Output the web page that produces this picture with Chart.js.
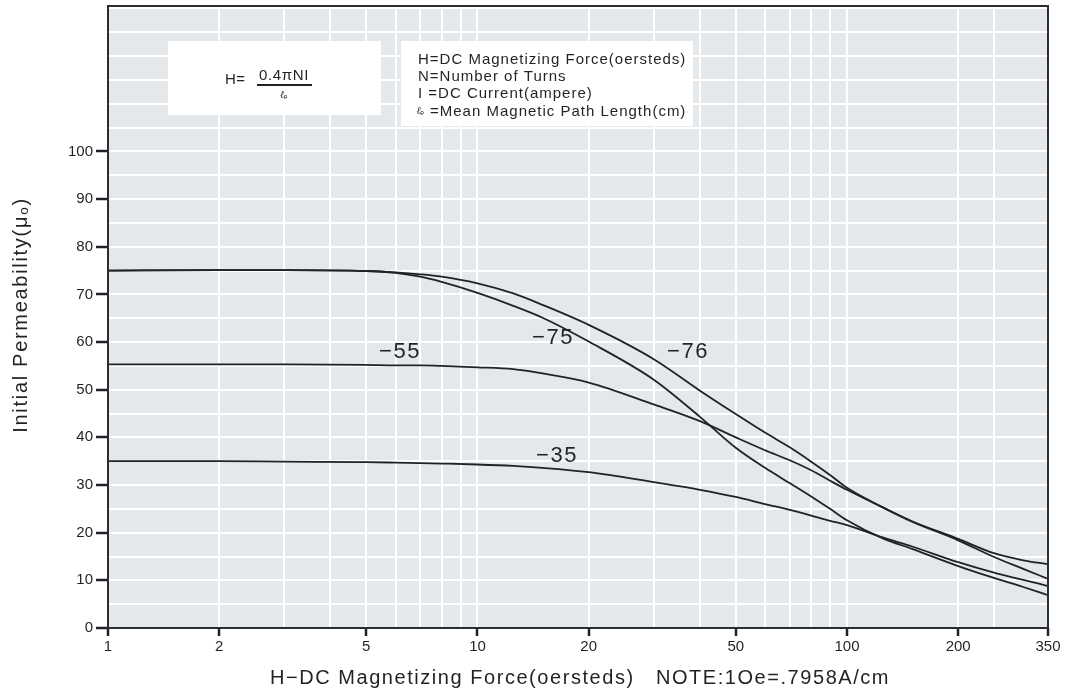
<!DOCTYPE html>
<html><head><meta charset="utf-8">
<script src="https://cdn.jsdelivr.net/npm/chart.js@4.4.0/dist/chart.umd.min.js"></script>
<style>html,body{margin:0;padding:0;background:#fff;}#wrap{width:1067px;height:690px;}</style>
</head><body><div id="wrap"><canvas id="c" width="1067" height="690"></canvas></div>
<script>
// H (oersteds) sample points
const hValues = [1, 2, 3, 5, 6, 7, 8, 10, 12.5, 15, 20, 30, 40, 50, 60, 70, 80, 90, 100, 125, 150, 200, 250, 300, 350];
// Initial permeability for each material
const mat76 = [75.0, 75.1, 75.1, 74.9, 74.6, 74.2, 73.7, 72.3, 70.2, 67.8, 63.6, 56.4, 49.8, 44.9, 41.0, 37.9, 34.9, 32.1, 29.4, 25.3, 22.3, 18.4, 14.9, 12.4, 10.3];
const mat75 = [75.0, 75.1, 75.1, 74.9, 74.5, 73.7, 72.6, 70.3, 67.6, 65.1, 60.1, 52.1, 44.3, 37.8, 33.6, 30.4, 27.6, 25.0, 22.6, 18.8, 16.6, 13.0, 10.5, 8.6, 6.9];
const mat55 = [55.3, 55.3, 55.3, 55.2, 55.1, 55.1, 55.0, 54.7, 54.3, 53.4, 51.5, 46.9, 43.4, 40.0, 37.3, 35.2, 33.1, 30.9, 29.0, 25.3, 22.4, 18.7, 15.7, 14.2, 13.4];
const mat35 = [35.0, 35.0, 34.9, 34.8, 34.7, 34.6, 34.5, 34.3, 34.0, 33.6, 32.7, 30.6, 29.0, 27.5, 26.0, 24.8, 23.6, 22.5, 21.6, 19.0, 17.1, 13.8, 11.6, 10.1, 8.8];
const seriesNames = ['−76', '−75', '−55', '−35'];
// axis ticks
const xGridValues = [1, 2, 3, 4, 5, 6, 7, 8, 9, 10, 20, 30, 40, 50, 60, 70, 80, 90, 100, 200, 250, 350];
const xLabelValues = [1, 2, 5, 10, 20, 50, 100, 200, 350];
const yGridValues = [0, 5, 10, 15, 20, 25, 30, 35, 40, 45, 50, 55, 60, 65, 70, 75, 80, 85, 90, 95, 100, 105, 110, 115, 120, 125, 130];
const yLabelValues = [0, 10, 20, 30, 40, 50, 60, 70, 80, 90, 100];

const FONT = '"Liberation Sans", Arial, "DejaVu Sans", sans-serif';
const INK = '#1f2226';

function txt(ctx, s, x, y, size, spacing, align, extra) {
  ctx.save();
  ctx.font = (extra || '') + size + 'px ' + FONT;
  try { ctx.letterSpacing = spacing + 'px'; } catch (e) {}
  ctx.fillStyle = INK;
  ctx.textBaseline = 'middle';
  let w = ctx.measureText(s).width;
  let sx = x;
  if (align === 'center') sx = x - w / 2;
  else if (align === 'right') sx = x - w;
  ctx.textAlign = 'left';
  ctx.fillText(s, sx, y);
  ctx.restore();
  return w;
}

const decor = {
  id: 'decor',
  beforeDraw(chart) {
    const { ctx, chartArea: a } = chart;
    ctx.save();
    ctx.fillStyle = '#ffffff';
    ctx.fillRect(0, 0, chart.width, chart.height);
    ctx.fillStyle = '#e4e8eb';
    ctx.fillRect(a.left, a.top, a.right - a.left, a.bottom - a.top);
    ctx.restore();
  },
  beforeDatasetsDraw(chart) {
    const { ctx } = chart;
    ctx.save();
    ctx.fillStyle = '#ffffff';
    ctx.fillRect(168, 41, 213, 74);
    ctx.fillRect(401, 41, 292, 85);
    ctx.restore();
    // formula
    txt(ctx, 'H=', 225, 80, 15, 0.5, 'left');
    txt(ctx, '0.4\u03C0NI', 284, 76, 15, 0.6, 'center');
    ctx.save();
    ctx.strokeStyle = INK; ctx.lineWidth = 2;
    ctx.beginPath(); ctx.moveTo(257, 85); ctx.lineTo(312, 85); ctx.stroke();
    ctx.restore();
    txt(ctx, '\u2113\u2091', 284, 95, 10, 0, 'center', 'italic ');
    // definitions
    const lines = [['H', '=DC Magnetizing Force(oersteds)'], ['N', '=Number of Turns'], ['I', ' =DC Current(ampere)'], ['\u2113\u2091', '=Mean Magnetic Path Length(cm)']];
    const ys = [59.5, 76.5, 93.5, 111.5];
    lines.forEach((l, i) => {
      if (i === 3) {
        txt(ctx, l[0], 417, ys[i], 10, 0, 'left', 'italic ');
        txt(ctx, l[1], 430, ys[i], 15, 1, 'left');
      } else {
        const w = txt(ctx, l[0], 418, ys[i], 15, 1, 'left');
        txt(ctx, l[1], 418 + w, ys[i], 15, 1, 'left');
      }
    });
  },
  afterDraw(chart) {
    const { ctx, chartArea: a } = chart;
    ctx.save();
    ctx.strokeStyle = '#2a2e33'; ctx.lineWidth = 2;
    ctx.strokeRect(a.left, a.top, a.right - a.left, a.bottom - a.top);
    ctx.restore();
    // curve labels
    txt(ctx, seriesNames[2], 400, 352, 22, 1.5, 'center');
    txt(ctx, seriesNames[1], 553, 338, 22, 1.5, 'center');
    txt(ctx, seriesNames[0], 688, 352, 22, 1.5, 'center');
    txt(ctx, seriesNames[3], 557, 456, 22, 1.5, 'center');
    // axis titles
    txt(ctx, 'H\u2212DC Magnetizing Force(oersteds)   NOTE:1Oe=.7958A/cm', 580, 678, 20, 1.55, 'center');
    ctx.save();
    ctx.translate(21, 315);
    ctx.rotate(-Math.PI / 2);
    txt(ctx, 'Initial Permeability(\u03BC\u2092)', 0, 0, 20, 1.7, 'center');
    ctx.restore();
  }
};

const mk = (arr) => hValues.map((h, i) => ({ x: h, y: arr[i] }));
const datasets = [mat76, mat75, mat55, mat35].map((arr, i) => ({
  label: seriesNames[i], data: mk(arr), borderColor: INK, borderWidth: 1.8,
  pointRadius: 0, fill: false, cubicInterpolationMode: 'monotone'
}));

new Chart(document.getElementById('c'), {
  type: 'line',
  data: { datasets },
  plugins: [decor],
  options: {
    responsive: false, animation: false, devicePixelRatio: 1,
    layout: { padding: { top: 6, right: 19, left: 0, bottom: 0 } },
    plugins: { legend: { display: false }, tooltip: { enabled: false } },
    scales: {
      x: {
        type: 'logarithmic', min: 1, max: 350,
        afterBuildTicks(s) { s.ticks = xGridValues.map(v => ({ value: v })); },
        afterFit(s) { s.height = 62; s.paddingLeft = 0; s.paddingRight = 0; },
        ticks: { autoSkip: false, maxRotation: 0, minRotation: 0, padding: 2, color: INK,
          font: { family: FONT, size: 15 },
          callback: (v) => xLabelValues.includes(v) ? String(v) : '' },
        grid: { color: (c) => (c.tick && (c.tick.value === 1 || c.tick.value === 350)) ? 'rgba(0,0,0,0)' : '#ffffff',
          lineWidth: 2, tickLength: 8, tickWidth: 2.5,
          tickColor: (c) => (c.tick && xLabelValues.includes(c.tick.value)) ? INK : 'rgba(0,0,0,0)' },
        border: { display: false }
      },
      y: {
        type: 'linear', min: 0, max: 130.5,
        afterBuildTicks(s) { s.ticks = yGridValues.map(v => ({ value: v })); },
        afterFit(s) { s.width = 108; s.paddingTop = 0; s.paddingBottom = 0; },
        ticks: { autoSkip: false, padding: 3, color: INK, font: { family: FONT, size: 15 },
          callback: (v) => yLabelValues.includes(v) ? String(v) : '' },
        grid: { color: (c) => (c.tick && c.tick.value === 0) ? 'rgba(0,0,0,0)' : '#ffffff',
          lineWidth: 2, tickLength: 12, tickWidth: 2.5,
          tickColor: (c) => (c.tick && yLabelValues.includes(c.tick.value)) ? INK : 'rgba(0,0,0,0)' },
        border: { display: false }
      }
    }
  }
});
</script></body></html>
